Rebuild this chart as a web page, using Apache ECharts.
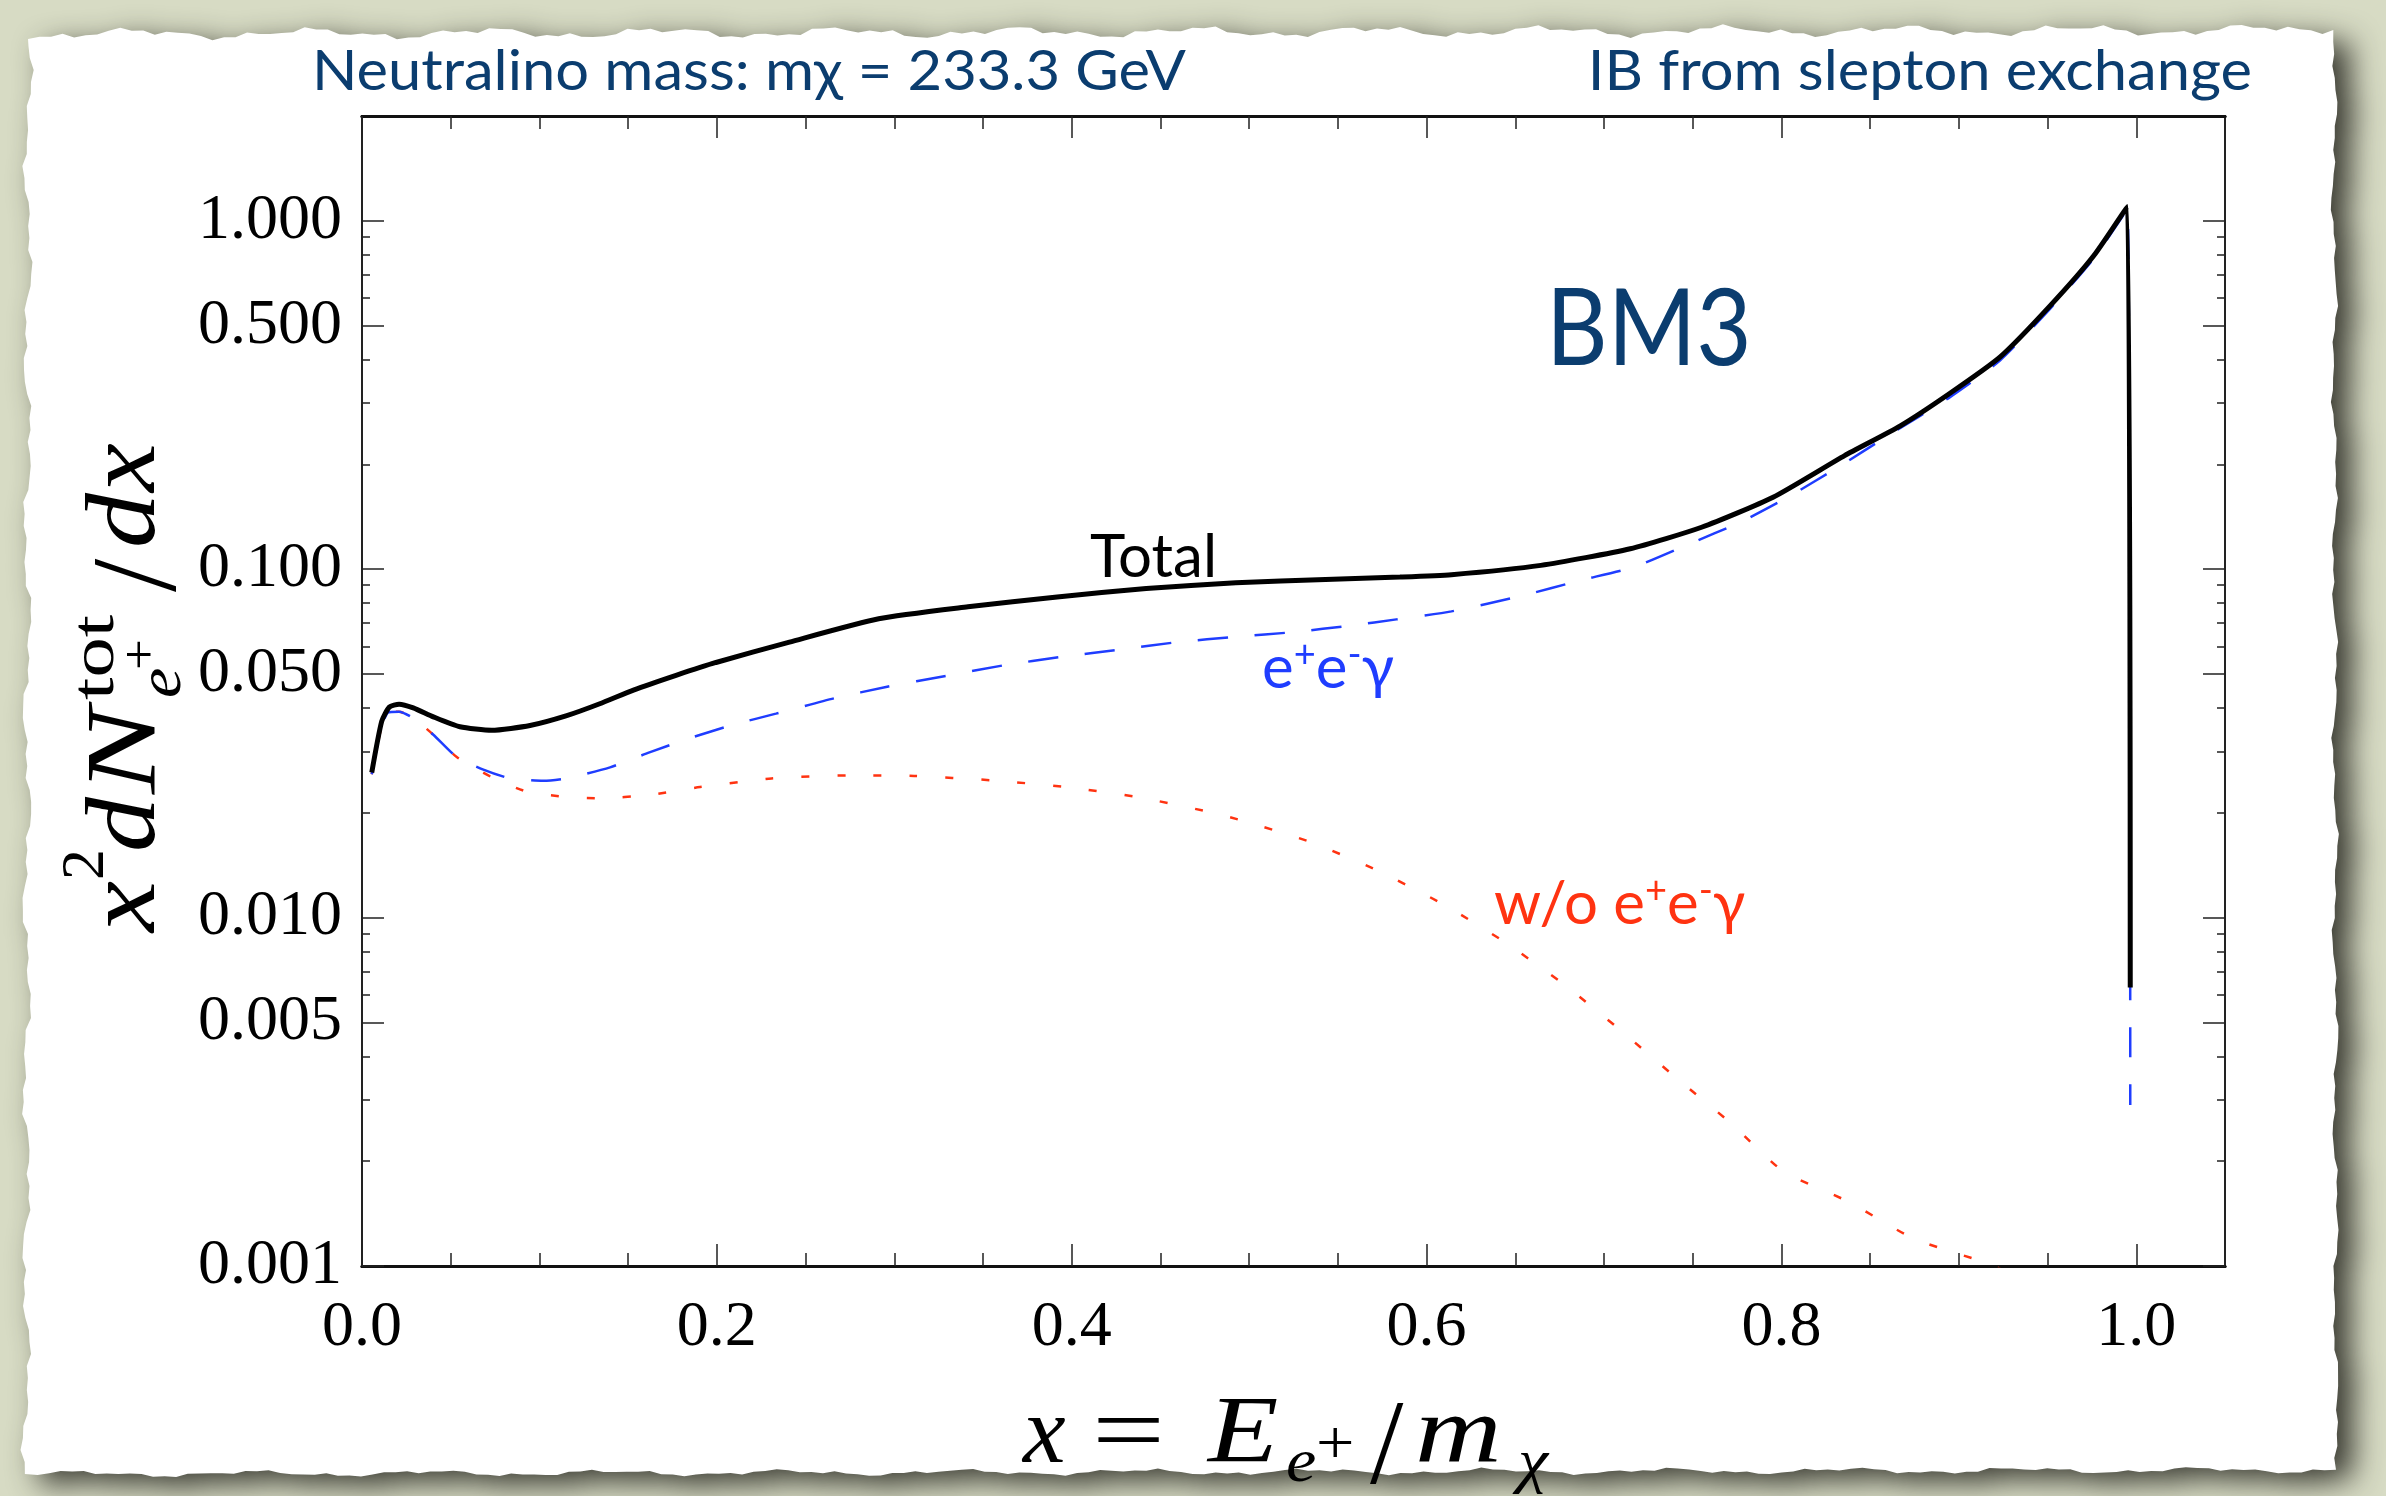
<!DOCTYPE html>
<html>
<head>
<meta charset="utf-8">
<script src="https://cdn.jsdelivr.net/npm/echarts@6/dist/echarts.min.js"></script>
<style>
html, body { margin: 0; padding: 0; background: #d7dbc4; }
#chart { width: 2386px; height: 1496px; }
</style>
</head>
<body>
<div id="chart"></div>
<script>
// 전체(Total) 곡선
const xTotal = [0.0055, 0.0111, 0.0154, 0.0209, 0.0289, 0.0402, 0.0552, 0.0731, 0.0947, 0.1154, 0.134, 0.153, 0.177, 0.1995, 0.2409, 0.2912, 0.3415, 0.3918, 0.442, 0.4925, 0.543, 0.585, 0.614, 0.6644, 0.7148, 0.755, 0.7953, 0.8356, 0.867, 0.895, 0.9233, 0.9515, 0.976, 0.995, 0.9966];
const yTotal = [0.0261, 0.0366, 0.0402, 0.0410, 0.0400, 0.0377, 0.0353, 0.0345, 0.0356, 0.0380, 0.0411, 0.0450, 0.0496, 0.0540, 0.0618, 0.0721, 0.0780, 0.0833, 0.0880, 0.0914, 0.0935, 0.0950, 0.0965, 0.1026, 0.1145, 0.132, 0.161, 0.212, 0.258, 0.320, 0.407, 0.571, 0.794, 1.10, 0.0063];

// e+e-γ 곡선 (파란 점선)
const xEeg = [0.0055, 0.0111, 0.0148, 0.0209, 0.0289, 0.0402, 0.0534, 0.0684, 0.0834, 0.1022, 0.1154, 0.1398, 0.162, 0.1868, 0.2093, 0.2333, 0.266, 0.296, 0.329, 0.3617, 0.394, 0.427, 0.46, 0.4925, 0.525, 0.558, 0.583, 0.614, 0.6544, 0.6866, 0.7168, 0.747, 0.7772, 0.8054, 0.8335, 0.8617, 0.895, 0.9233, 0.9515, 0.976, 0.995, 0.9966];
const yEeg = [0.0258, 0.0355, 0.0388, 0.0390, 0.0374, 0.0335, 0.0289, 0.0266, 0.0251, 0.0247, 0.0251, 0.0270, 0.0298, 0.0330, 0.0358, 0.0385, 0.0426, 0.0460, 0.0494, 0.0530, 0.0560, 0.0588, 0.0618, 0.0640, 0.0660, 0.0690, 0.0718, 0.0757, 0.0841, 0.0929, 0.1015, 0.1176, 0.1368, 0.163, 0.1986, 0.2447, 0.312, 0.398, 0.560, 0.780, 1.08, 0.0029];

// w/o e+e-γ 곡선 (빨간 점선)
const xNoEeg = [0.0055, 0.0111, 0.0148, 0.0209, 0.0289, 0.0402, 0.0534, 0.0731, 0.0928, 0.1154, 0.134, 0.162, 0.1905, 0.2308, 0.2736, 0.3113, 0.354, 0.397, 0.437, 0.4775, 0.4975, 0.5357, 0.573, 0.6104, 0.6446, 0.678, 0.7093, 0.7406, 0.7719, 0.801, 0.8377, 0.8743, 0.913, 0.93];
const yNoEeg = [0.0258, 0.0355, 0.0388, 0.0390, 0.0374, 0.0335, 0.0289, 0.0253, 0.0230, 0.0222, 0.0220, 0.0225, 0.0237, 0.0251, 0.0256, 0.0255, 0.0248, 0.0237, 0.0222, 0.0201, 0.0189, 0.0164, 0.0136, 0.01085, 0.00847, 0.0064, 0.00475, 0.00347, 0.00256, 0.00187, 0.00153, 0.0012, 0.00103, 0.00095];

// 눈금
const xMajorTicks = [0, 0.2, 0.4, 0.6, 0.8, 1.0];
const xMinorTicks = [0.05, 0.1, 0.15, 0.25, 0.3, 0.35, 0.45, 0.5, 0.55, 0.65, 0.7, 0.75, 0.85, 0.9, 0.95];
const yMajorTicks = [0.001, 0.005, 0.01, 0.05, 0.1, 0.5, 1];
const yMinorTicks = [0.002, 0.003, 0.004, 0.006, 0.007, 0.008, 0.009,
                     0.02, 0.03, 0.04, 0.06, 0.07, 0.08, 0.09,
                     0.2, 0.3, 0.4, 0.6, 0.7, 0.8, 0.9];

const X_MIN = 0, X_MAX = 1.05;
const Y_MIN = 0.001, Y_MAX = 2;

const NAVY = '#0b3d6f';
const BLUE = '#1f3dff';
const RED  = '#ff3311';
const SANS = 'Lato, "Open Sans", sans-serif';
const SERIF = '"Liberation Serif", "DejaVu Serif", serif';

var myChart = echarts.init(document.getElementById('chart'));

//찢어진 종이 가장자리
function tornEdge(x0, y0, x1, y1, n, amp, seed) {
	let pts = [];
	for (let i = 0; i < n; i++) {
		const t = i / n;
		const j = amp * (0.5 * Math.sin(i * 0.41 + seed) + 0.3 * Math.sin(i * 1.13 + seed * 2) + 0.2 * Math.sin(i * 2.7 + seed * 3));
		const dx = x1 - x0, dy = y1 - y0;
		const len = Math.sqrt(dx * dx + dy * dy);
		pts.push([x0 + dx * t - dy / len * j, y0 + dy * t + dx / len * j]);
	}
	return pts;
}

const paperPts = [].concat(
	tornEdge(28, 34, 2334, 30, 200, 7, 1),
	tornEdge(2334, 30, 2336, 1470, 120, 4, 2),
	tornEdge(2336, 1470, 26, 1474, 200, 4, 3),
	tornEdge(26, 1474, 28, 34, 120, 6, 4)
);

function xAxisOf(pos, ticks, len, showLabel) {
	return {
		type: 'value', position: pos, min: X_MIN, max: X_MAX,
		axisLine: { show: true, onZero: false, lineStyle: { color: '#111', width: 3 } },
		axisTick: { show: true, inside: true, length: len, customValues: ticks, lineStyle: { color: '#222', width: 1.5 } },
		axisLabel: {
			show: showLabel, customValues: xMajorTicks, margin: 30,
			fontFamily: SERIF, fontSize: 64, color: '#000',
			formatter: (v) => Number(v).toFixed(1)
		},
		splitLine: { show: false }
	};
}

function yAxisOf(pos, ticks, len, showLabel) {
	return {
		type: 'log', logBase: 10, position: pos, min: Y_MIN, max: Y_MAX,
		axisLine: { show: true, onZero: false, lineStyle: { color: '#222', width: 2 } },
		axisTick: { show: true, inside: true, length: len, customValues: ticks, lineStyle: { color: '#222', width: 1.5 } },
		axisLabel: {
			show: showLabel, customValues: yMajorTicks, margin: 20,
			fontFamily: SERIF, fontSize: 64, color: '#000',
			formatter: (v) => Number(v).toFixed(3)
		},
		splitLine: { show: false },
		minorTick: { show: false }
	};
}

function txt(x, y, text, size, family, style, color, align, sx) {
	return {
		type: 'text', x: x, y: y, z: 20, scaleX: sx || 1,
		style: {
			text: text, fontSize: size, fontFamily: family, fontStyle: style || 'normal',
			fill: color || '#000', align: align || 'left', verticalAlign: 'bottom'
		}
	};
}

//수식 글자 하나 (기준선 기준 배치)
function glyph(text, left, base, size, italic, sx) {
	return txt(left, base + 0.28 * size, text, size, SERIF, italic ? 'italic' : 'normal', '#000', 'left', sx);
}

//y축 제목 (회전)
const yTitle = {
	type: 'group', x: 150, y: 934, rotation: Math.PI / 2, z: 20,
	children: [
		glyph('x', 2, 0, 100, true, 1.15),
		glyph('2', 54, -50, 62, false, 1.0),
		glyph('d', 82, 0, 100, true, 1.1),
		glyph('N', 140, 0, 100, true, 1.3),
		glyph('tot', 234, -40, 62, false, 1.3),
		glyph('e', 236, 27, 62, true, 1.1),
		glyph('+', 264, 4, 50, false, 1.1),
		glyph('/', 342, 20, 120, false, 1.0),
		glyph('d', 386, 0, 100, true, 1.1),
		glyph('x', 442, 0, 100, true, 1.1)
	]
};

//x축 제목
const xTitle = {
	type: 'group', x: 0, y: 0, z: 20,
	children: [
		glyph('x', 1023, 1458, 96, true, 1.0),
		glyph('=', 1092, 1458, 96, false, 1.35),
		glyph('E', 1208, 1458, 96, true, 1.2),
		glyph('e', 1286, 1478, 62, true, 1.1),
		glyph('+', 1316, 1460, 62, false, 1.1),
		glyph('/', 1370, 1478, 120, false, 1.0),
		glyph('m', 1415, 1458, 96, true, 1.25),
		glyph('χ', 1518, 1478, 62, true, 1.1)
	]
};

function richLabel(x, y, parts, color) {
	return {
		type: 'text', x: x, y: y, z: 20,
		style: {
			text: parts, fill: color, align: 'left', verticalAlign: 'bottom',
			rich: {
				b: { fontSize: 60, fontFamily: SANS, color: color, lineHeight: 66 },
				s: { fontSize: 38, fontFamily: SANS, color: color, verticalAlign: 'top', lineHeight: 66 }
			}
		}
	};
}

function lineSeries(name, xs, ys, color, width, dash, z) {
	return {
		name: name, type: 'line', xAxisIndex: 0, yAxisIndex: 0,
		data: xs.map((x, i) => [x, ys[i]]),
		showSymbol: false, clip: true, z: z,
		smooth: 0.2,
		lineStyle: { color: color, width: width, type: dash }
	};
}

var option = {
	animation: false,
	backgroundColor: '#d7dbc4',
	grid: { left: 362, top: 116, width: 1863, height: 1150, containLabel: false },
	xAxis: [
		xAxisOf('bottom', xMajorTicks, 22, true),
		xAxisOf('bottom', xMinorTicks, 13, false),
		xAxisOf('top', xMajorTicks, 22, false),
		xAxisOf('top', xMinorTicks, 13, false)
	],
	yAxis: [
		yAxisOf('left', yMajorTicks, 22, true),
		yAxisOf('left', yMinorTicks, 8, false),
		yAxisOf('right', yMajorTicks, 22, false),
		yAxisOf('right', yMinorTicks, 8, false)
	],
	graphic: [
		{
			type: 'polygon', z: -10, silent: true,
			shape: { points: paperPts },
			style: { fill: '#ffffff', shadowBlur: 30, shadowColor: 'rgba(30,30,25,0.85)', shadowOffsetX: 16, shadowOffsetY: 10 }
		},
		txt(312, 100, 'Neutralino mass: mχ = 233.3 GeV', 56, SANS, 'normal', NAVY, 'left', 1.065),
		txt(2252, 100, 'IB from slepton exchange', 56, SANS, 'normal', NAVY, 'right', 1.065),
		txt(1546, 384, 'BM3', 106, SANS, 'normal', NAVY, 'left', 0.9),
		txt(1090, 588, 'Total', 60, SANS, 'normal', '#000'),
		richLabel(1262, 702, '{b|e}{s|+}{b|e}{s|-}{b|γ}', BLUE),
		richLabel(1494, 938, '{b|w/o e}{s|+}{b|e}{s|-}{b|γ}', RED),
		yTitle,
		xTitle
	],
	series: [
		lineSeries('w/o e+e-γ', xNoEeg, yNoEeg, RED, 2.5, [8, 28], 3),
		lineSeries('e+e-γ', xEeg, yEeg, BLUE, 2.5, [30, 27], 4),
		lineSeries('Total', xTotal, yTotal, '#000', 5, 'solid', 5)
	]
};

myChart.setOption(option);
</script>
</body>
</html>
